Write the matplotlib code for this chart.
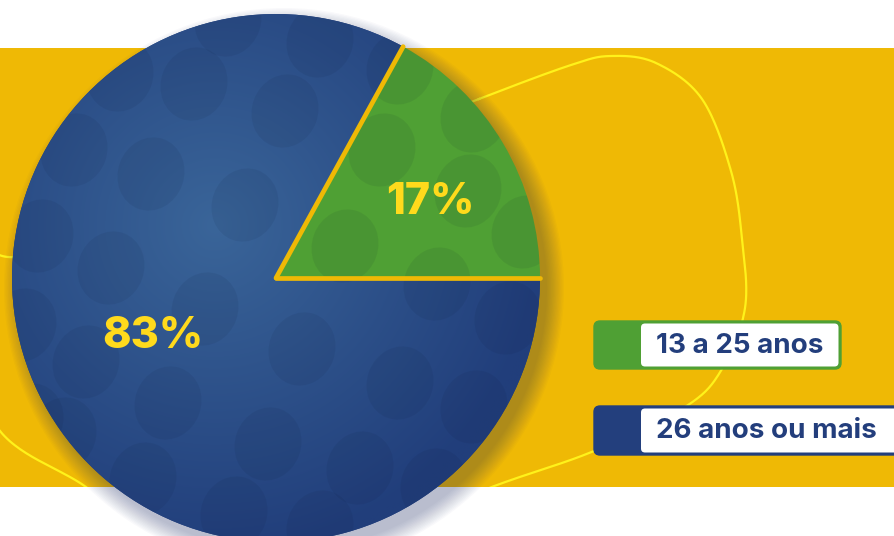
import numpy as np
import matplotlib
matplotlib.use("Agg")
import matplotlib.pyplot as plt
from matplotlib.patches import Circle, FancyBboxPatch, Rectangle, Ellipse

# ---- data ----
categories = ["13 a 25 anos", "26 anos ou mais"]
values = [17, 83]
labels = ["17%", "83%"]
colors = ["#4FA034", "#233F7D"]

W, H = 895, 536
YELLOW = "#EFB905"
LINE_Y = "#FFF21A"
TXT_Y = "#FFDA1C"
NAVY = "#233E7C"

fig = plt.figure(figsize=(W / 100, H / 100), dpi=100)
ax = fig.add_axes([0, 0, 1, 1])
fig.patch.set_facecolor("white")

def Y(y):
    return H - y

# background band
band = Rectangle((0, Y(487)), W, 487 - 48, facecolor=YELLOW, edgecolor="none", zorder=0)
ax.add_patch(band)

# decorative loop line (closed Catmull-Rom through control points)
pts = np.array([(479, 99), (571, 65), (611, 56), (656, 63), (702, 99), (731, 171),
                (742, 239), (745, 308), (722, 369), (685, 407), (594, 451), (497, 485),
                (350, 540), (150, 540), (86, 487), (0, 431), (-40, 330), (-20, 248),
                (15, 257), (150, 235), (350, 150)], float)
def catmull(p, n=30):
    out = []
    m = len(p)
    for i in range(m):
        p0, p1, p2, p3 = p[i - 1], p[i], p[(i + 1) % m], p[(i + 2) % m]
        t = np.linspace(0, 1, n, endpoint=False)[:, None]
        out.append(0.5 * ((2 * p1) + (-p0 + p2) * t + (2 * p0 - 5 * p1 + 4 * p2 - p3) * t ** 2
                          + (-p0 + 3 * p1 - 3 * p2 + p3) * t ** 3))
    out = np.vstack(out)
    return np.vstack([out, out[:1]])
c = catmull(pts)
ln, = ax.plot(c[:, 0], H - c[:, 1], color=LINE_Y, lw=1.6, zorder=1)
ln.set_clip_path(band)

# pie geometry
cx, cy, R = 276, 278, 264

# shadow
for i in range(14):
    ax.add_patch(Circle((cx + 8, Y(cy + 10)), R + 16 - i * 1.3, facecolor="#1c2a66",
                        alpha=0.024, edgecolor="none", zorder=2))

wedges, _ = ax.pie(values, colors=colors, startangle=0, counterclock=True,
                   center=(cx, Y(cy)), radius=R,
                   wedgeprops=dict(edgecolor="none", linewidth=0))
for w in wedges:
    w.set_zorder(3)

# radial gradient on the blue wedge
gx, gy = np.meshgrid(np.linspace(cx - R, cx + R, 400), np.linspace(Y(cy) - R, Y(cy) + R, 400))
d = np.hypot(gx - 215, gy - Y(225)) / 330.0
d = np.clip(d, 0, 1)
c0 = np.array(matplotlib.colors.to_rgb("#3A6599"))
c1 = np.array(matplotlib.colors.to_rgb("#213E7B"))
img = c0[None, None, :] * (1 - d[..., None]) + c1[None, None, :] * d[..., None]
im = ax.imshow(img, extent=(cx - R, cx + R, Y(cy) - R, Y(cy) + R), origin="lower",
               zorder=3.5, interpolation="bilinear")
im.set_clip_path(wedges[1])

# dimples
dimples = [(228, 20), (320, 41), (400, 68), (194, 84), (285, 111), (74, 150), (151, 174),
           (245, 205), (382, 150), (474, 116), (468, 191), (345, 246), (40, 236), (111, 268),
           (205, 309), (525, 232), (437, 284), (302, 349), (23, 325), (86, 362), (400, 383),
           (508, 318), (168, 403), (63, 434), (268, 444), (360, 468), (474, 407), (143, 479),
           (234, 513), (320, 527), (434, 485), (120, 75), (30, 420)]
clipc = Circle((cx, Y(cy)), R, transform=ax.transData)
for (x, y) in dimples:
    e = Ellipse((x, Y(y)), 66, 74, angle=-20, facecolor="#0a1530",
                alpha=0.075, edgecolor="none", zorder=4)
    ax.add_patch(e)
    e.set_clip_path(clipc)

# yellow separators between wedges
for w in wedges:
    a = np.deg2rad(w.theta1)
    ax.plot([cx, cx + R * np.cos(a)], [Y(cy), Y(cy) + R * np.sin(a)],
            color=YELLOW, lw=3.4, solid_capstyle="round", zorder=5)

# percentage labels (layout positions in pixels)
label_pos = [(430, 203), (153, 337)]
for lab, (lx, ly) in zip(labels, label_pos):
    ax.text(lx, Y(ly), lab, color=TXT_Y, fontsize=31, fontweight="heavy", family="Inter",
            ha="center", va="center", zorder=6)

# legend
boxes = [(594, 321, 841, 369), (594, 406, 905, 455)]
for (x0, y0, x1, y1), col, cat in zip(boxes, colors, categories):
    ax.add_patch(FancyBboxPatch((x0, Y(y1)), x1 - x0, y1 - y0,
                                boxstyle="round,pad=0,rounding_size=6",
                                facecolor=col, edgecolor=col, lw=1, zorder=6))
    ax.add_patch(FancyBboxPatch((641, Y(y1 - 2.5)), x1 - 2.5 - 641, y1 - y0 - 5,
                                boxstyle="round,pad=0,rounding_size=4",
                                facecolor="white", edgecolor="none", zorder=7))
    ax.text(656, Y((y0 + y1) / 2 + 1), cat, color=NAVY, fontsize=20, fontweight="bold",
            family="Inter", ha="left", va="center", zorder=8)

ax.set_xlim(0, W)
ax.set_ylim(0, H)
ax.set_aspect("equal")
ax.axis("off")
fig.savefig("out.png", dpi=100, facecolor="white")
